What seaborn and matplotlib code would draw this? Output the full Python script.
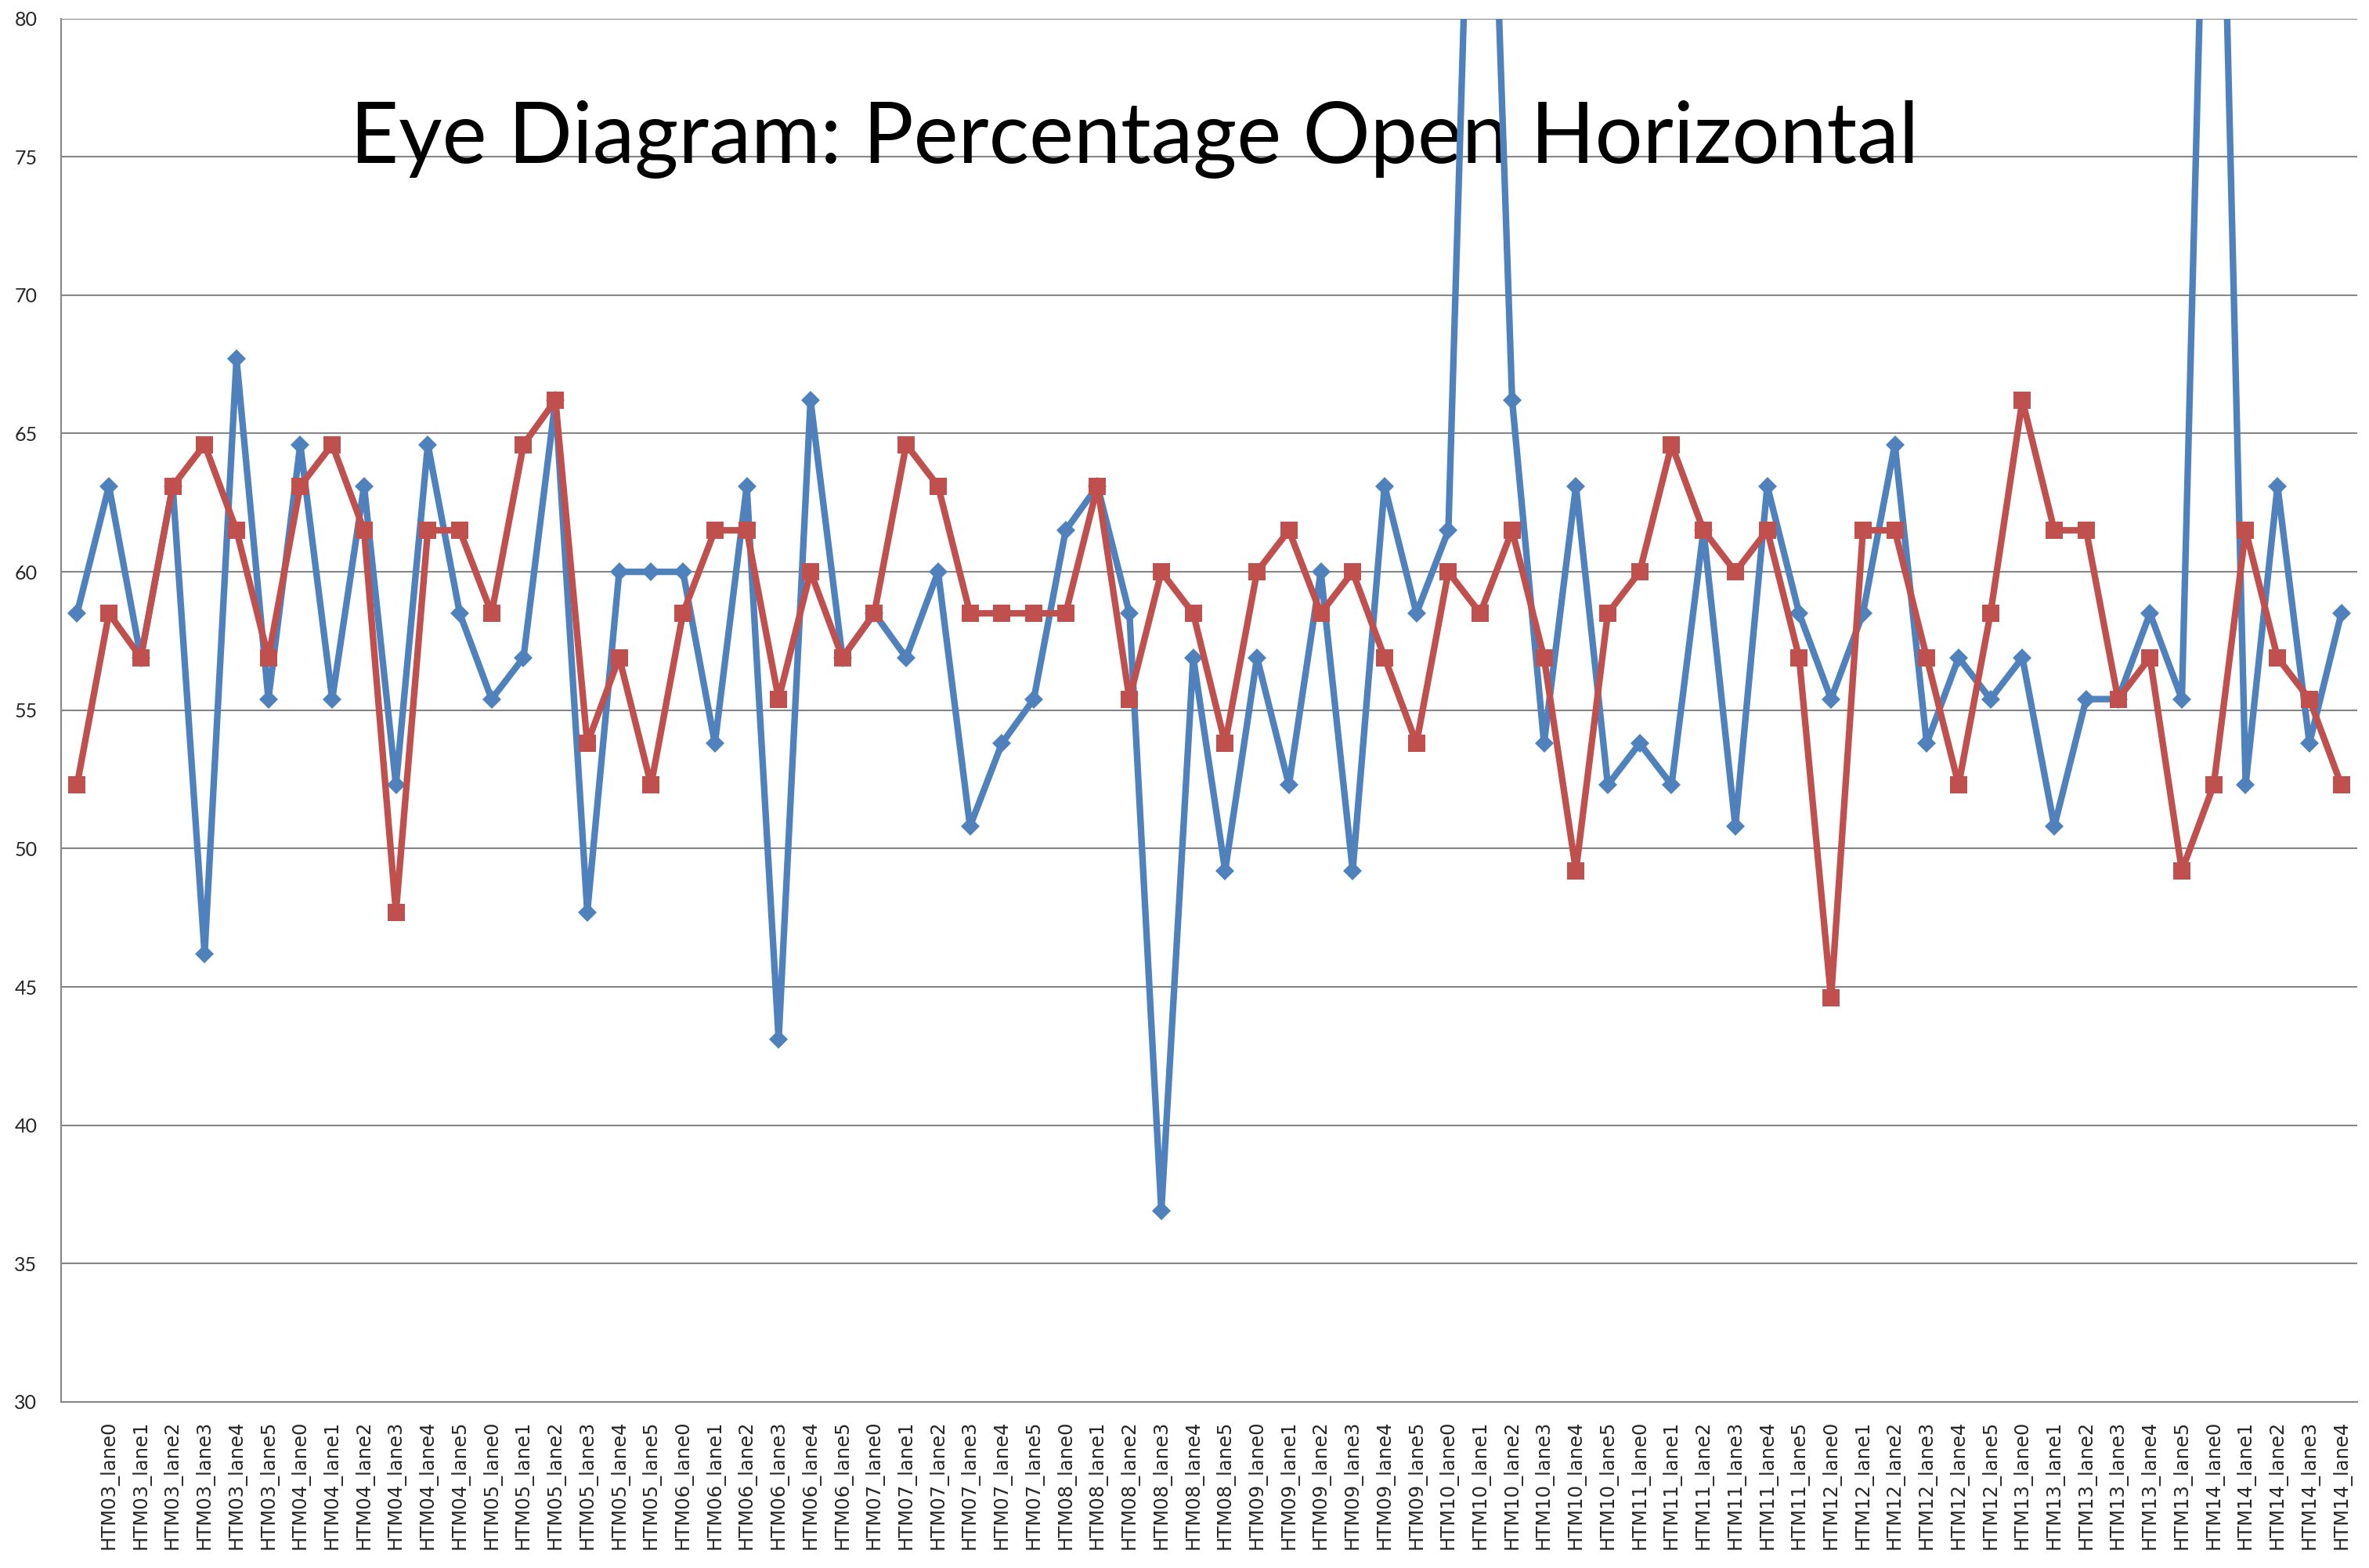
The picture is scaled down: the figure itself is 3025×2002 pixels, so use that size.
import matplotlib
matplotlib.use('Agg')
import matplotlib.pyplot as plt
import numpy as np
import pandas as pd
import seaborn as sns

# categories (first slot of the source chart carries no label)
lanes = [''] + ['HTM%02d_lane%d' % (m, l) for m in range(3, 14) for l in range(6)] + \
        ['HTM14_lane%d' % l for l in range(5)]

# blue series (diamonds) - the two spikes run off the top of the chart
blue_vals = [58.5, 63.1, 56.9, 63.1, 46.2, 67.7, 55.4, 64.6, 55.4, 63.1, 52.3, 64.6,
             58.5, 55.4, 56.9, 66.2, 47.7, 60.0, 60.0, 60.0, 53.8, 63.1, 43.1, 66.2,
             56.9, 58.5, 56.9, 60.0, 50.8, 53.8, 55.4, 61.5, 63.1, 58.5, 36.9, 56.9,
             49.2, 56.9, 52.3, 60.0, 49.2, 63.1, 58.5, 61.5, 100.0, 66.2, 53.8, 63.1,
             52.3, 53.8, 52.3, 61.5, 50.8, 63.1, 58.5, 55.4, 58.5, 64.6, 53.8, 56.9,
             55.4, 56.9, 50.8, 55.4, 55.4, 58.5, 55.4, 100.0, 52.3, 63.1, 53.8, 58.5]

# red series (squares)
red_vals = [52.3, 58.5, 56.9, 63.1, 64.6, 61.5, 56.9, 63.1, 64.6, 61.5, 47.7, 61.5,
            61.5, 58.5, 64.6, 66.2, 53.8, 56.9, 52.3, 58.5, 61.5, 61.5, 55.4, 60.0,
            56.9, 58.5, 64.6, 63.1, 58.5, 58.5, 58.5, 58.5, 63.1, 55.4, 60.0, 58.5,
            53.8, 60.0, 61.5, 58.5, 60.0, 56.9, 53.8, 60.0, 58.5, 61.5, 56.9, 49.2,
            58.5, 60.0, 64.6, 61.5, 60.0, 61.5, 56.9, 44.6, 61.5, 61.5, 56.9, 52.3,
            58.5, 66.2, 61.5, 61.5, 55.4, 56.9, 49.2, 52.3, 61.5, 56.9, 55.4, 52.3]

series_names = ['Series1', 'Series2']
y_ticks = [30, 35, 40, 45, 50, 55, 60, 65, 70, 75, 80]
title = 'Eye Diagram: Percentage Open Horizontal'

df = pd.DataFrame({
    'lane': lanes * 2,
    'pct': blue_vals + red_vals,
    'series': [series_names[0]] * len(lanes) + [series_names[1]] * len(lanes),
})

sns.set_style('white')
plt.rcParams['font.family'] = ['DejaVu Sans']

grid_col = '#868686'
fig = plt.figure(figsize=(30.25, 20.02), dpi=100)
ax = fig.add_axes([0.02579, 0.1059, 0.99504 - 0.02579, 0.98826 - 0.1059])

sns.pointplot(data=df, x='lane', y='pct', hue='series', order=lanes, hue_order=series_names,
              palette=['#4F81BD', '#C0504D'], markers=['D', 's'], linestyles=['-', '-'],
              errorbar=None, legend=False, ax=ax, linewidth=6, markersize=16.5,
              markeredgewidth=0)

# diamonds a bit smaller than the squares
for ln in ax.lines:
    if ln.get_marker() == 'D':
        ln.set_markersize(12)

ax.set_ylim(30, 80)
ax.set_xlim(-0.5, len(lanes) - 0.5)
ax.set_yticks(y_ticks)
ax.set_yticklabels([str(v) for v in y_ticks], fontsize=18, family=['Lato', 'DejaVu Sans'])
ax.set_xticks(np.arange(len(lanes)))
ax.set_xticklabels(lanes, rotation=90, fontsize=17.5, va='top', ha='center')
ax.set_xticks(np.arange(len(lanes) + 1) - 0.5, minor=True)
ax.tick_params(axis='x', which='major', length=0, pad=17)
ax.tick_params(axis='x', which='minor', length=7, width=1.5, color=grid_col, direction='out')
ax.tick_params(axis='y', length=7, width=1.5, color=grid_col, direction='out', pad=15)

ax.yaxis.grid(True, color=grid_col, linewidth=1.5)
ax.xaxis.grid(False)
ax.set_axisbelow(True)
for side in ['top', 'right']:
    ax.spines[side].set_visible(False)
for side in ['left', 'bottom']:
    ax.spines[side].set_color(grid_col)
    ax.spines[side].set_linewidth(1.5)
ax.set_xlabel('')
ax.set_ylabel('')

# chart title sits inside the plot area, under the lines
ax.text(0.4787, 0.896, title, transform=fig.transFigure, ha='center', va='baseline',
        fontsize=77.5, family=['Lato', 'DejaVu Sans'], color='black', zorder=1)

fig.savefig('out.png', dpi=100, facecolor='white')
